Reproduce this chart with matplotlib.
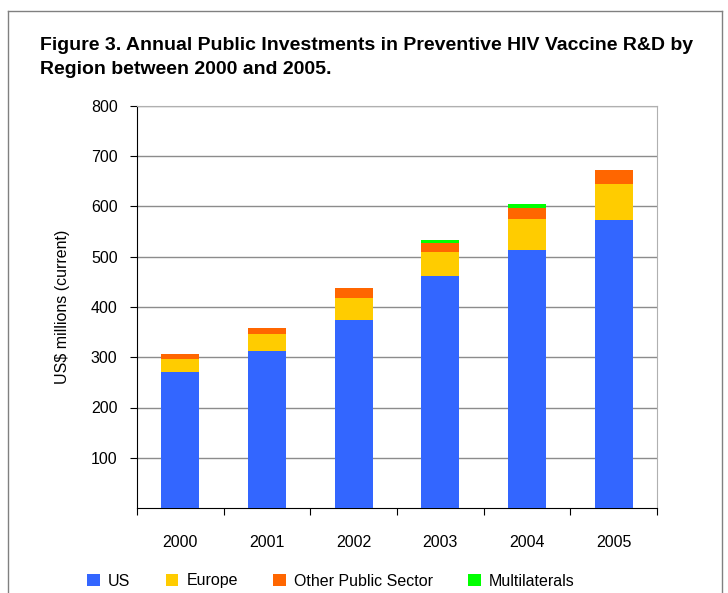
import numpy as np
import matplotlib.pyplot as plt
from matplotlib.lines import Line2D

years = ["2000", "2001", "2002", "2003", "2004", "2005"]
us = [270, 312, 374, 462, 514, 574]
europe = [27, 35, 44, 47, 62, 70]
other = [10, 12, 20, 19, 22, 29]
multilaterals = [0, 0, 0, 6, 6, 0]

series = [
    ("US", us, "#3366FF"),
    ("Europe", europe, "#FFCC00"),
    ("Other Public Sector", other, "#FF6600"),
    ("Multilaterals", multilaterals, "#00FF00"),
]

plt.rcParams['font.family'] = ['Liberation Sans', 'DejaVu Sans']

fig = plt.figure(figsize=(7.28, 5.93), dpi=100)
W, H = 728, 593
ax = fig.add_axes([137 / W, 1 - 508 / H, (657 - 137) / W, (508 - 106) / H])

x = np.arange(len(years))
bottom = np.zeros(len(years))
handles = []
for name, vals, col in series:
    vals = np.array(vals, dtype=float)
    b = ax.bar(x, vals, 0.44, bottom=bottom, color=col, label=name, zorder=3)
    bottom += vals
    handles.append(b)

ax.set_xlim(-0.5, len(years) - 0.5)
ax.set_ylim(0, 800)
ax.set_yticks(np.arange(100, 801, 100))
ax.yaxis.grid(True, color="#8c8c8c", linewidth=1.0, zorder=0)
ax.tick_params(axis="y", direction="out", length=5, labelsize=11.5, pad=9)
ax.set_xticks(np.arange(-0.5, len(years), 1.0))
ax.set_xticklabels([])
ax.set_xticks(x, minor=True)
ax.set_xticklabels(years, minor=True)
ax.tick_params(axis="x", which="major", direction="out", length=5)
ax.tick_params(axis="x", which="minor", length=0, labelsize=11.5, pad=19.5)
for s in ["top", "right"]:
    ax.spines[s].set_color("#b0b0b0")
ax.spines["left"].set_color("black")
ax.spines["bottom"].set_color("black")
ax.set_ylabel("US$ millions (current)", fontsize=11.5, labelpad=15)

fig.text(40 / W, 1 - 45 / H, "Figure 3. Annual Public Investments in Preventive HIV Vaccine R&D by",
         fontsize=14, fontweight="bold", va="center")
fig.text(40 / W, 1 - 70 / H, "Region between 2000 and 2005.",
         fontsize=14, fontweight="bold", va="center")

fig.legend(handles=handles, loc="center left", bbox_to_anchor=(73 / W, 1 - 581 / H),
           ncol=4, frameon=False, fontsize=11.5, handlelength=0.8, handleheight=0.8,
           columnspacing=2.2, handletextpad=0.5)

# outer frame
frame_col = "#808080"
fig.add_artist(Line2D([8 / W, 722 / W], [1 - 11 / H, 1 - 11 / H], color=frame_col, lw=1))
fig.add_artist(Line2D([8 / W, 8 / W], [0, 1 - 11 / H], color=frame_col, lw=1))
fig.add_artist(Line2D([722 / W, 722 / W], [0, 1 - 11 / H], color=frame_col, lw=1))

fig.savefig("out.png", dpi=100)
